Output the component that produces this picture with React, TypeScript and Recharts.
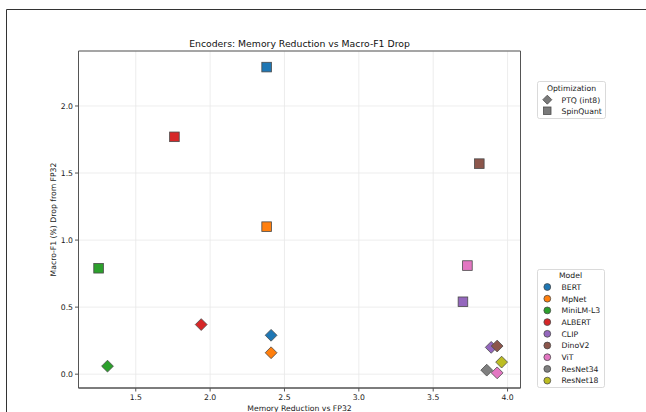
import { ScatterChart, Scatter, XAxis, YAxis, CartesianGrid, ReferenceArea } from 'recharts'

const MODELS = ['BERT', 'MpNet', 'MiniLM-L3', 'ALBERT', 'CLIP', 'DinoV2', 'ViT', 'ResNet34', 'ResNet18']
const COLORS = ['#1f77b4', '#ff7f0e', '#2ca02c', '#d62728', '#9467bd', '#8c564b', '#e377c2', '#7f7f7f', '#bcbd22']

// PTQ (int8) — diamonds
const PTQ_MEM = [2.41, 2.41, 1.31, 1.94, 3.89, 3.93, 3.93, 3.86, 3.96]
const PTQ_DROP = [0.29, 0.16, 0.06, 0.37, 0.20, 0.21, 0.01, 0.03, 0.09]

// SpinQuant — squares (no ResNet runs)
const SPIN_MEM = [2.38, 2.38, 1.25, 1.76, 3.70, 3.81, 3.73, null, null]
const SPIN_DROP = [2.29, 1.10, 0.79, 1.77, 0.54, 1.57, 0.81, null, null]

const OPTIMIZATIONS = ['PTQ (int8)', 'SpinQuant']

// ViT sits on top of ResNet34 in the original
const DRAW_ORDER = [0, 1, 2, 3, 4, 5, 7, 6, 8]

const X_TICKS = [1.5, 2.0, 2.5, 3.0, 3.5, 4.0]
const Y_TICKS = [0.0, 0.5, 1.0, 1.5, 2.0]
const X_DOMAIN: [number, number] = [1.115, 4.087]
const Y_DOMAIN: [number, number] = [-0.103, 2.41]

const FONT = '"DejaVu Sans", sans-serif'
const EDGE = '#4a4a4a'
const TEXT = '#1a1a1a'

type Pt = { x: number; y: number; model: string; color: string }

function rows(mem: (number | null)[], drop: (number | null)[]): Pt[] {
  const out: Pt[] = []
  DRAW_ORDER.forEach((i) => {
    const m = mem[i]
    const d = drop[i]
    if (m == null || d == null) return
    out.push({ x: m, y: d, model: MODELS[i], color: COLORS[i] })
  })
  return out
}

const ptqData = rows(PTQ_MEM, PTQ_DROP)
const spinData = rows(SPIN_MEM, SPIN_DROP)

const Diamond = (props: any) => {
  const { cx, cy, payload } = props
  const r = 5.9
  return (
    <polygon
      points={`${cx},${cy - r} ${cx + r},${cy} ${cx},${cy + r} ${cx - r},${cy}`}
      fill={payload.color}
      stroke={EDGE}
      strokeWidth={0.8}
    />
  )
}

const Square = (props: any) => {
  const { cx, cy, payload } = props
  const s = 9.6
  return (
    <rect x={cx - s / 2} y={cy - s / 2} width={s} height={s} fill={payload.color} stroke={EDGE} strokeWidth={0.8} />
  )
}

const tickStyle = { fontSize: 7.7, fill: TEXT, fontFamily: FONT }

function Legends() {
  return (
    <svg width={646} height={412} style={{ position: 'absolute', left: 0, top: 0, pointerEvents: 'none' }}>
      {/* figure frame */}
      <path d="M6.5,412 L6.5,9.5 L646,9.5" fill="none" stroke="#333" strokeWidth={1} />
      <text x={299.5} y={46.6} textAnchor="middle" fontSize={9.3} fontFamily={FONT} fill="#111">
        Encoders: Memory Reduction vs Macro-F1 Drop
      </text>

      {/* Optimization legend */}
      <rect x={537.5} y={81.5} width={68} height={37} rx={2} fill="#fff" stroke="#d0d0d0" strokeWidth={0.8} />
      <text x={571.5} y={90.5} textAnchor="middle" fontSize={7.7} fontFamily={FONT} fill={TEXT}>Optimization</text>
      {OPTIMIZATIONS.map((o, i) => {
        const y = 99.7 + i * 11
        return (
          <g key={o}>
            {i === 0 ? (
              <polygon points={`547.3,${y - 4.5} 551.8,${y} 547.3,${y + 4.5} 542.8,${y}`} fill="#7a7a7a" stroke={EDGE} strokeWidth={0.8} />
            ) : (
              <rect x={543.6} y={y - 3.7} width={7.4} height={7.4} fill="#7a7a7a" stroke={EDGE} strokeWidth={0.8} />
            )}
            <text x={561.5} y={y + 2.8} fontSize={7.7} fontFamily={FONT} fill={TEXT}>{o}</text>
          </g>
        )
      })}

      {/* Model legend */}
      <rect x={537.5} y={269.5} width={67} height={118} rx={2} fill="#fff" stroke="#d0d0d0" strokeWidth={0.8} />
      <text x={570.5} y={277.5} textAnchor="middle" fontSize={7.7} fontFamily={FONT} fill={TEXT}>Model</text>
      {MODELS.map((m, i) => {
        const y = 287 + i * 11.7
        return (
          <g key={m}>
            <circle cx={547.3} cy={y} r={3.4} fill={COLORS[i]} stroke={EDGE} strokeWidth={0.8} />
            <text x={561.5} y={y + 2.8} fontSize={7.7} fontFamily={FONT} fill={TEXT}>{m}</text>
          </g>
        )
      })}
    </svg>
  )
}

export default function App() {
  return (
    <div style={{ position: 'relative', width: 646, height: 412, background: '#fff', overflow: 'hidden' }}>
      <style>{`body{margin:0}`}</style>
      <ScatterChart width={646} height={412} margin={{ top: 51, right: 125.5, bottom: 0, left: 0 }}>
        <CartesianGrid stroke="#e8e8e8" strokeWidth={0.8} />
        <XAxis
          type="number"
          dataKey="x"
          domain={X_DOMAIN}
          ticks={X_TICKS}
          allowDataOverflow
          height={24}
          tickSize={3.5}
          tickMargin={3}
          stroke="#555"
          tick={tickStyle}
          tickFormatter={(v: number) => v.toFixed(1)}
          label={{
            content: ({ viewBox }: any) => (
              <text x={viewBox.x + viewBox.width / 2} y={410.8} textAnchor="middle" fontSize={7.7} fontFamily={FONT} fill={TEXT}>
                Memory Reduction vs FP32
              </text>
            ),
          }}
        />
        <YAxis
          type="number"
          dataKey="y"
          domain={Y_DOMAIN}
          ticks={Y_TICKS}
          allowDataOverflow
          width={78.5}
          tickSize={3.5}
          tickMargin={2}
          stroke="#555"
          tick={tickStyle}
          tickFormatter={(v: number) => v.toFixed(1)}
          label={{
            content: ({ viewBox }: any) => {
              const cy = viewBox.y + viewBox.height / 2
              return (
                <text x={55.8} y={cy} transform={`rotate(-90 55.8 ${cy})`} textAnchor="middle" fontSize={7.7} fontFamily={FONT} fill={TEXT}>
                  Macro-F1 (%) Drop from FP32
                </text>
              )
            },
          }}
        />
        <ReferenceArea x1={X_DOMAIN[0]} x2={X_DOMAIN[1]} y1={Y_DOMAIN[0]} y2={Y_DOMAIN[1]} fill="none" stroke="#555" strokeWidth={1} />
        <Scatter data={ptqData} shape={Diamond} isAnimationActive={false} />
        <Scatter data={spinData} shape={Square} isAnimationActive={false} />
      </ScatterChart>
      <Legends />
    </div>
  )
}
